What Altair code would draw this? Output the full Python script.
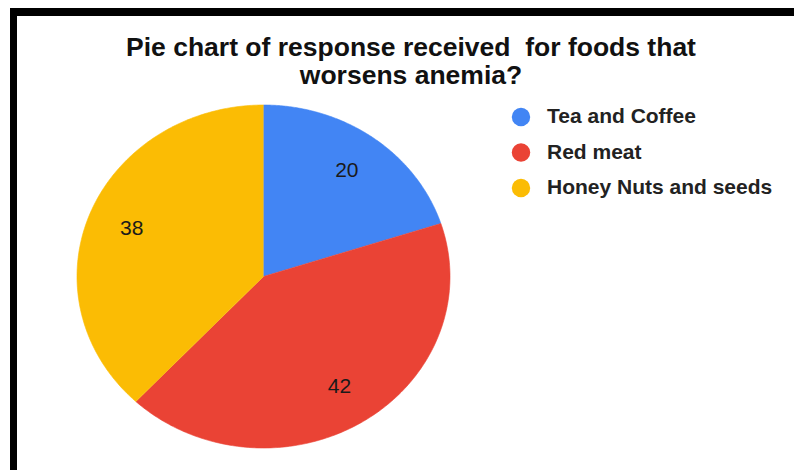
import altair as alt
import pandas as pd

# Survey responses: foods believed to worsen anemia
categories = ["Tea and Coffee", "Red meat", "Honey Nuts and seeds"]
legend_labels = ["\u00a0Tea and Coffee", "Red meat", "Honey Nuts and seeds"]
responses = [20, 42, 38]
slice_colors = ["#4285F4", "#EA4335", "#FBBC04"]

title_lines = ["Pie chart of response received\u00a0 for foods that", "worsens anemia?"]

df = pd.DataFrame({
    "food": categories,
    "label": legend_labels,
    "responses": responses,
    "order": list(range(len(categories))),
})

W, H = 794, 470
CX, CY = 263.5, 276.5      # pie centre
RX, RY = 186.5, 171.5      # pie radii (slightly wider than tall)
LABEL_R = 0.76             # value labels sit at this fraction of the radius
STEPS = 180                # arc resolution per slice
FONT = "Liberation Sans"

color = alt.Color(
    "food:N",
    scale=alt.Scale(domain=categories, range=slice_colors),
    legend=None,
)
x_unit = alt.Scale(domain=[-1, 1], range=[CX - RX, CX + RX])
y_unit = alt.Scale(domain=[-1, 1], range=[CY - RY, CY + RY])

# cumulative angles of each slice, clockwise from 12 o'clock
angles = (
    alt.Chart(df)
    .transform_window(cum="sum(responses)", sort=[alt.SortField("order")])
    .transform_joinaggregate(total="sum(responses)")
    .transform_calculate(
        a0="2*PI*(datum.cum - datum.responses)/datum.total",
        a1="2*PI*datum.cum/datum.total",
    )
)

# each slice is a filled outline: centre point followed by points along its arc
pie = (
    angles.transform_calculate(step=f"sequence(-1, {STEPS + 1})")
    .transform_flatten(["step"])
    .transform_calculate(
        ang=f"datum.a0 + (datum.a1 - datum.a0)*max(datum.step, 0)/{STEPS}",
        rad="datum.step < 0 ? 0 : 1",
        px="datum.rad*sin(datum.ang)",
        py="-datum.rad*cos(datum.ang)",
    )
    .mark_line(filled=True, strokeWidth=0.6, interpolate="linear")
    .encode(
        x=alt.X("px:Q", scale=x_unit, axis=None),
        y=alt.Y("py:Q", scale=y_unit, axis=None),
        order=alt.Order("step:Q"),
        detail="food:N",
        color=color,
        stroke=alt.Stroke("food:N", scale=alt.Scale(domain=categories, range=slice_colors), legend=None),
    )
)

values = (
    angles.transform_calculate(
        mid="(datum.a0 + datum.a1)/2",
        lx=f"{LABEL_R}*sin(datum.mid)",
        ly=f"-{LABEL_R}*cos(datum.mid)",
    )
    .mark_text(font=FONT, fontSize=21, color="#1a1a1a", baseline="middle")
    .encode(
        x=alt.X("lx:Q", scale=x_unit, axis=None),
        y=alt.Y("ly:Q", scale=y_unit, axis=None),
        text=alt.Text("responses:Q"),
    )
)

legend_y = alt.Y(
    "food:N",
    sort=categories,
    scale=alt.Scale(type="point", domain=categories, range=[117, 188], padding=0),
    axis=None,
)
legend_dots = alt.Chart(df).mark_circle(size=340, opacity=1).encode(
    x=alt.value(521),
    y=legend_y,
    color=color,
)
legend_text = alt.Chart(df).mark_text(
    font=FONT, fontSize=21, fontWeight="bold", color="#222222",
    align="left", baseline="middle",
).encode(
    x=alt.value(547),
    y=legend_y,
    text="label:N",
)
legend = alt.layer(legend_dots, legend_text)

title = alt.Chart(pd.DataFrame({"k": [0]})).mark_text(
    text=title_lines, font=FONT, fontSize=26.5, fontWeight="bold", color="#111111",
    align="center", baseline="alphabetic", lineHeight=27.5,
).encode(x=alt.value(411), y=alt.value(56))

frame_df = pd.DataFrame({"x": [10, 10], "x2": [W, 17], "y": [8, 8], "y2": [16, H]})
frame = alt.Chart(frame_df).mark_rect(color="black").encode(
    x=alt.X("x:Q", scale=None),
    x2="x2:Q",
    y=alt.Y("y:Q", scale=None),
    y2="y2:Q",
)

chart = (
    alt.layer(frame, title, pie, values, legend)
    .resolve_scale(y="independent", x="independent")
    .properties(
        width=W,
        height=H,
        padding=0,
        autosize=alt.AutoSizeParams(type="none"),
        background="white",
    )
    .configure_view(stroke=None)
)

chart.save("out.html", embed_options={"renderer": "svg", "actions": False})
